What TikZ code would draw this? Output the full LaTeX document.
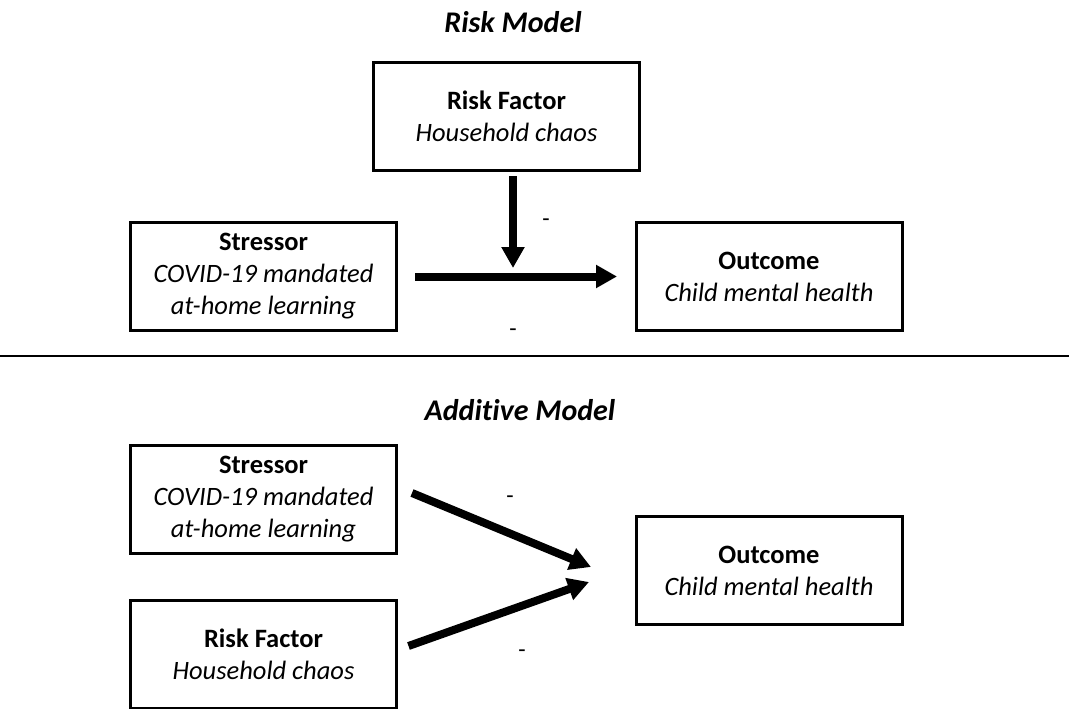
\documentclass[tikz,border=0pt]{standalone}
\usepackage{fontspec}
\setmainfont{Carlito}[Ligatures=CommonOff]
\usetikzlibrary{arrows.meta}
\begin{document}
\begin{tikzpicture}[x=1pt,y=-1pt,
  box/.style={draw=black,line width=3pt,minimum width=266pt,minimum height=108pt,
    inner sep=0pt,align=center,font=\fontsize{26.5}{32}\selectfont},
  title/.style={font=\fontsize{30}{34}\selectfont\bfseries\itshape},
  sign/.style={font=\fontsize{24}{28}\selectfont},
  arr/.style={line width=8pt,-{Triangle[length=21pt,width=22pt]}},
  rule/.style={line width=2pt}]
\useasboundingbox (0,0) rectangle (1069,709);
% Risk model
\node[title] (t1) at (513,22) {Risk Model};
\node[box] (rf1) at (506.5,116.5) {\textbf{Risk Factor}\\\textit{Household chaos}};
\node[box] (st1) at (263.5,276.5) {\textbf{Stressor}\\\textit{COVID-19 mandated}\\\textit{at-home learning}};
\node[box] (oc1) at (769,276.5) {\textbf{Outcome}\\\textit{Child mental health}};
\coordinate (mid1) at (513,268);
\draw[arr,shorten <=17pt,shorten >=17.5pt] (st1.east) -- (oc1.west);
\draw[arr] ([yshift=-4pt]rf1.south -| mid1) -- (mid1);
\node[sign] (m1) at (546,223) {-};
\node[sign] (m2) at (513,333) {-};
% rule
\coordinate (rl) at (0,356);
\coordinate (rr) at (1069,356);
\draw[rule] (rl) -- (rr);
% Additive model
\node[title] (t2) at (520,410) {Additive Model};
\node[box] (st2) at (263.5,499) {\textbf{Stressor}\\\textit{COVID-19 mandated}\\\textit{at-home learning}};
\node[box] (rf2) at (263.5,654) {\textbf{Risk Factor}\\\textit{Household chaos}};
\node[box] (oc2) at (769,570.5) {\textbf{Outcome}\\\textit{Child mental health}};
\draw[arr] ([xshift=14pt,yshift=6pt]st2.east) -- ([xshift=-43.5pt,yshift=3.5pt]oc2.west);
\draw[arr] ([xshift=10.5pt,yshift=8pt]rf2.east) -- ([xshift=-45.5pt,yshift=-11.5pt]oc2.west);
\node[sign] (m3) at (510,500) {-};
\node[sign] (m4) at (522,654) {-};
\end{tikzpicture}
\end{document}
